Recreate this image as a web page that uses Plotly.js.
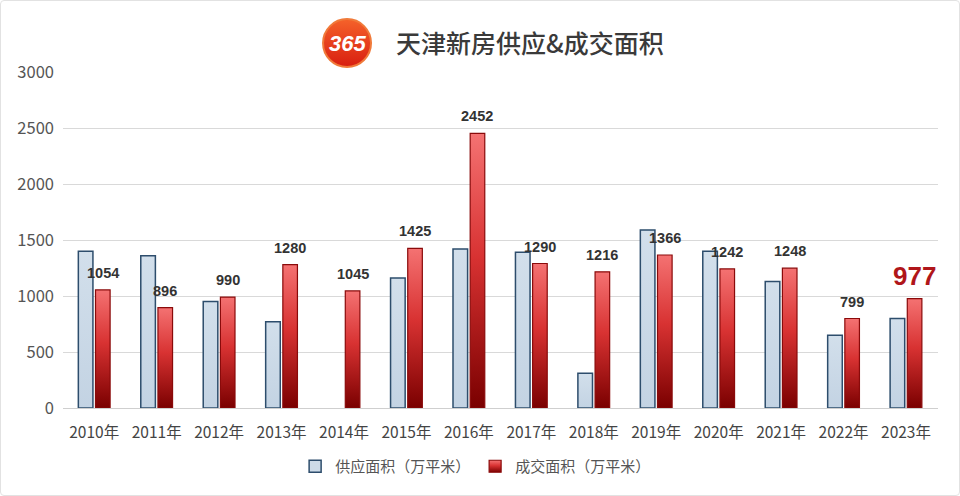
<!DOCTYPE html>
<html><head><meta charset="utf-8">
<script src="https://cdn.plot.ly/plotly-3.0.1.min.js"></script>
<style>html,body{margin:0;padding:0;background:#fff;}#chart{width:960px;height:496px;box-sizing:border-box;border:1px solid #e2e2e2;border-radius:4px;}</style>
</head><body>
<div id="chart"></div>
<script>
const years = ['2010年','2011年','2012年','2013年','2014年','2015年','2016年','2017年','2018年','2019年','2020年','2021年','2022年','2023年'];
const supply = [1400, 1360, 950, 770, 0, 1160, 1420, 1390, 310, 1590, 1400, 1130, 650, 800];
const deals = [1054, 896, 990, 1280, 1045, 1425, 2452, 1290, 1216, 1366, 1242, 1248, 799, 977];
const supplyName = '供应面积（万平米）';
const dealName = '成交面积（万平米）';
const titleText = '天津新房供应&成交面积';
const yTicks = [0, 500, 1000, 1500, 2000, 2500, 3000];

const cjk = '"Noto Sans CJK SC", "Noto Sans", sans-serif';
const num = '"Liberation Sans", Arial, sans-serif';

const traces = [
  {type:'bar', name:supplyName, x:years, y:supply.map(v=>v||null),
   marker:{color:'#cddbe8', line:{color:'#2d4d6c', width:1.5}}, hoverinfo:'skip'},
  {type:'bar', name:dealName, x:years, y:deals,
   marker:{color:'#d42a2a', line:{color:'#8a0a0a', width:1.2}}, hoverinfo:'skip'}
];

const last = deals.length - 1;
const annotations = deals.map((v,i)=>({
  x: years[i], y: v, xref:'x', yref:'y', text: String(v), showarrow:false,
  xshift: 8.5, yanchor:'bottom', yshift: i===last ? 6 : 7,
  font: i===last ? {family:num, size:26, color:'#b0161a', weight:'bold'} : {family:num, size:14.5, color:'#333', weight:'bold'}
}));
annotations.push({xref:'paper', yref:'paper', x:0.3246, y:1.086, text:'<b><i>365</i></b>', showarrow:false,
  font:{family:num, size:22, color:'#ffffff'}, xanchor:'center', yanchor:'middle'});

const layout = {
  width:958, height:494,
  margin:{l:62, r:21, t:71, b:85},
  paper_bgcolor:'rgba(0,0,0,0)', plot_bgcolor:'#fff',
  title:{text:titleText, x:0.552, xanchor:'center', xref:'container', y:0.913, yanchor:'middle', yref:'container',
    font:{family:cjk, size:25, color:'#3a3a3a', weight:500}},
  barmode:'group', bargap:0.45, bargroupgap:0.15,
  showlegend:true,
  legend:{orientation:'h', x:0.471, xanchor:'center', y:-0.125, yanchor:'top', font:{family:cjk, size:15, color:'#555'},
    itemwidth:30, tracegroupgap:0, entrywidth:135, entrywidthmode:'pixels'},
  xaxis:{type:'category', tickfont:{family:cjk, size:15.5, color:'#444'}, showgrid:false, showline:false, ticks:'', zeroline:false, ticklabelstandoff:13},
  yaxis:{range:[0,3000], tickvals:yTicks, ticktext:yTicks.map(String), tickfont:{family:cjk, size:16.5, color:'#555'},
    gridcolor:'#d9d9d9', gridwidth:1, zeroline:true, zerolinecolor:'#cfcfcf', showline:false, ticks:'', ticklabelstandoff:8},
  annotations: annotations,
  shapes:[{type:'circle', xref:'paper', yref:'paper', xsizemode:'pixel', ysizemode:'pixel',
    xanchor:0.3246, yanchor:1.086, x0:-24, x1:24, y0:-24, y1:24,
    fillcolor:'#e8401f', line:{color:'#f07a3a', width:2}}]
};

Plotly.newPlot('chart', traces, layout, {staticPlot:true, displayModeBar:false}).then(gd=>{
  const svg = gd.querySelector('svg.main-svg');
  const ns = 'http://www.w3.org/2000/svg';
  let defs = svg.querySelector('defs');
  if(!defs){defs = document.createElementNS(ns,'defs'); svg.insertBefore(defs, svg.firstChild);}
  function grad(id, stops){
    const g = document.createElementNS(ns,'linearGradient');
    g.setAttribute('id', id); g.setAttribute('x1','0'); g.setAttribute('y1','0'); g.setAttribute('x2','0'); g.setAttribute('y2','1');
    stops.forEach(s=>{const st=document.createElementNS(ns,'stop'); st.setAttribute('offset',s[0]); st.setAttribute('stop-color',s[1]); g.appendChild(st);});
    defs.appendChild(g);
  }
  grad('redGrad', [['0','#f47272'],['0.45','#d83232'],['1','#7a0000']]);
  grad('blueGrad', [['0','#d2dfeb'],['1','#c3d3e3']]);
  grad('logoGrad', [['0','#f5622a'],['1','#d81e10']]);
  const traceGroups = gd.querySelectorAll('g.trace.bars');
  if(traceGroups[1]) traceGroups[1].querySelectorAll('path').forEach(p=>{p.style.fill='url(#redGrad)';});
  if(traceGroups[0]) traceGroups[0].querySelectorAll('path').forEach(p=>{p.style.fill='url(#blueGrad)';});
  const legs = gd.querySelectorAll('g.legend g.traces');
  if(legs[1]) legs[1].querySelectorAll('g.legendpoints path').forEach(p=>{p.style.fill='url(#redGrad)';});
  const circ = gd.querySelector('g.shapelayer path');
  if(circ) circ.style.fill='url(#logoGrad)';
});
</script>
</body></html>
